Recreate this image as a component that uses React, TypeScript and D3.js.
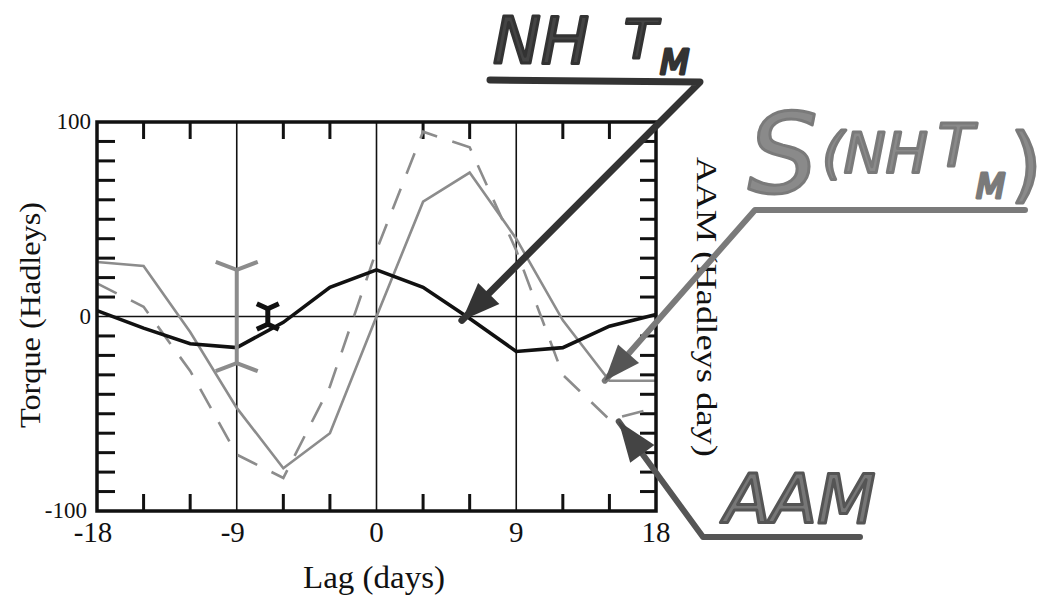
import * as d3 from 'd3';
import React from 'react';

// lag axis (days) and the three curves, read every 3 days
const lags = [-18, -15, -12, -9, -6, -3, 0, 3, 6, 9, 12, 15, 18];
const nhTorque = [3, -6, -14, -16, -3, 15, 24, 15, -1, -18, -16, -5, 1];
const smoothTorque = [28, 26, -8, -47, -78, -60, 0, 59, 74, 40, -2, -33, -33];
const aam = [17, 5, -28, -71, -83, -36, 34, 95, 87, 34, -30, -53, -47];

const xTickLabels = [-18, -9, 0, 9, 18];
const yTickLabels = [100, 0, -100];
const xMinorTicks = [-15, -12, -6, -3, 3, 6, 12, 15];
const yMinorTicks = [-90, -80, -70, -60, -50, -40, -30, -20, -10, 10, 20, 30, 40, 50, 60, 70, 80, 90];
const gridX = [-9, 0, 9];

// error bars drawn on the plot
const grayBar = { lag: -9, lo: -24, hi: 24 };
const blackBar = { lag: -7, lo: -4, hi: 4 };

// where the hand-drawn arrows point (data units)
const nhTip = { lag: 5.5, v: -2 };
const sTip = { lag: 14.7, v: -33 };
const aamTip = { lag: 15.6, v: -54 };

const x = d3.scaleLinear().domain([-18, 18]).range([97, 656]);
const y = d3.scaleLinear().domain([-100, 100]).range([511, 122]);

const serif = '"Liberation Serif", "Times New Roman", serif';
const hand = '"DejaVu Sans", sans-serif';

const line = d3.line<[number, number]>()
  .x(d => x(d[0]))
  .y(d => y(d[1]));

function pts(vals: number[]): [number, number][] {
  return lags.map((l, i) => [l, vals[i]] as [number, number]);
}

function arrowHead(tx: number, ty: number, fx: number, fy: number, len: number, half: number) {
  const dx = tx - fx, dy = ty - fy;
  const d = Math.sqrt(dx * dx + dy * dy);
  const ux = dx / d, uy = dy / d;
  const bx = tx - ux * len, by = ty - uy * len;
  return `M${tx},${ty}L${bx - uy * half},${by + ux * half}L${bx + uy * half},${by - ux * half}Z`;
}

function ErrorBar({ bar, color, width, arm, rise }: { bar: { lag: number, lo: number, hi: number }, color: string, width: number, arm: number, rise: number }) {
  const cx = x(bar.lag);
  const top = y(bar.hi), bot = y(bar.lo);
  return (
    <g stroke={color} strokeWidth={width} fill="none">
      <line x1={cx} x2={cx} y1={top} y2={bot} />
      <path d={`M${cx - arm},${top - rise}L${cx},${top}L${cx + arm},${top - rise}`} />
      <path d={`M${cx - arm},${bot + rise}L${cx},${bot}L${cx + arm},${bot + rise}`} />
    </g>
  );
}

export default function App() {
  const [x0, x1] = x.range();
  const [yb, yt] = y.range();

  const nhT = [x(nhTip.lag), y(nhTip.v)];
  const sT = [x(sTip.lag), y(sTip.v)];
  const aT = [x(aamTip.lag), y(aamTip.v)];

  return (
    <svg width={1057} height={601} style={{ position: 'absolute', left: 0, top: 0, background: '#fff' }}>
      {/* grid lines */}
      <g stroke="#111" strokeWidth={1.6}>
        {gridX.map(g => <line key={g} x1={x(g)} x2={x(g)} y1={yt} y2={yb} />)}
        <line x1={x0} x2={x1} y1={y(0)} y2={y(0)} />
      </g>

      {/* inward ticks */}
      <g stroke="#111" strokeWidth={3}>
        {xMinorTicks.map(t => (
          <g key={t}>
            <line x1={x(t)} x2={x(t)} y1={yt} y2={yt + 17} />
            <line x1={x(t)} x2={x(t)} y1={yb} y2={yb - 17} />
          </g>
        ))}
        {yMinorTicks.map(t => (
          <g key={t}>
            <line x1={x0} x2={x0 + 18} y1={y(t)} y2={y(t)} />
            <line x1={x1} x2={x1 - 16} y1={y(t)} y2={y(t)} />
          </g>
        ))}
      </g>

      {/* curves */}
      <path d={line(pts(aam)) || ''} fill="none" stroke="#8c8c8c" strokeWidth={2.6} strokeDasharray="22,16" />
      <path d={line(pts(smoothTorque)) || ''} fill="none" stroke="#8c8c8c" strokeWidth={2.6} />
      <path d={line(pts(nhTorque)) || ''} fill="none" stroke="#111" strokeWidth={3.6} />

      <ErrorBar bar={grayBar} color="#8c8c8c" width={4} arm={21} rise={8} />
      <ErrorBar bar={blackBar} color="#111" width={5} arm={11} rise={5} />

      {/* frame */}
      <rect x={x0} y={yt} width={x1 - x0} height={yb - yt} fill="none" stroke="#111" strokeWidth={3.5} />

      {/* tick labels */}
      <g fontFamily={serif} fill="#111">
        {yTickLabels.map(v => (
          <text key={v} x={v === -100 ? 87 : 91} y={y(v) + 7} fontSize={23} textAnchor="end">{v}</text>
        ))}
        {xTickLabels.map(v => (
          <text key={v} x={x(v) - (v < 0 ? 4 : 0)} y={542} fontSize={29} textAnchor="middle">{v}</text>
        ))}
        <text x={374} y={588} fontSize={31} textAnchor="middle" textLength={142} lengthAdjust="spacingAndGlyphs">Lag (days)</text>
        <text transform="translate(40,315) rotate(-90)" fontSize={30} textAnchor="middle" textLength={226} lengthAdjust="spacingAndGlyphs">Torque (Hadleys)</text>
        <text transform="translate(697,307) rotate(90)" fontSize={30} textAnchor="middle" textLength={300} lengthAdjust="spacingAndGlyphs">AAM (Hadleys day)</text>
      </g>

      {/* hand-drawn annotations */}
      <g fontFamily={hand} fontStyle="italic" strokeLinejoin="round">
        <g fill="#444" stroke="#333" strokeWidth={3}>
          <text x={493} y={63} fontSize={64}>NH</text>
          <text x={624} y={58} fontSize={54}>T</text>
          <text x={660} y={74} fontSize={34}>M</text>
        </g>
        <g fill="#8a8a8a" stroke="#7a7a7a" strokeWidth={3}>
          <text x={748} y={192} fontSize={110}>S</text>
          <text x={822} y={172} fontSize={56}>(NH</text>
          <text x={938} y={166} fontSize={58}>T</text>
          <text x={976} y={198} fontSize={34}>M</text>
          <text x={1010} y={192} fontSize={82} fontStyle="normal">)</text>
        </g>
        <g fill="#777" stroke="#555" strokeWidth={3}>
          <text x={724} y={523} fontSize={68}>AAM</text>
        </g>
      </g>

      <g fill="none" strokeLinecap="round" strokeLinejoin="round">
        <path d={`M490,80L700,82L${nhT[0]},${nhT[1]}`} stroke="#333" strokeWidth={7} />
        <path d={`M1025,210L755,210L${sT[0]},${sT[1]}`} stroke="#7a7a7a" strokeWidth={6} />
        <path d={`M860,537L703,537L${aT[0]},${aT[1]}`} stroke="#555" strokeWidth={6} />
      </g>
      <path d={arrowHead(nhT[0], nhT[1], 700, 82, 38, 15)} fill="#333" />
      <path d={arrowHead(sT[0], sT[1], 755, 210, 36, 14)} fill="#555" />
      <path d={arrowHead(aT[0], aT[1], 703, 537, 40, 15)} fill="#444" />
    </svg>
  );
}
